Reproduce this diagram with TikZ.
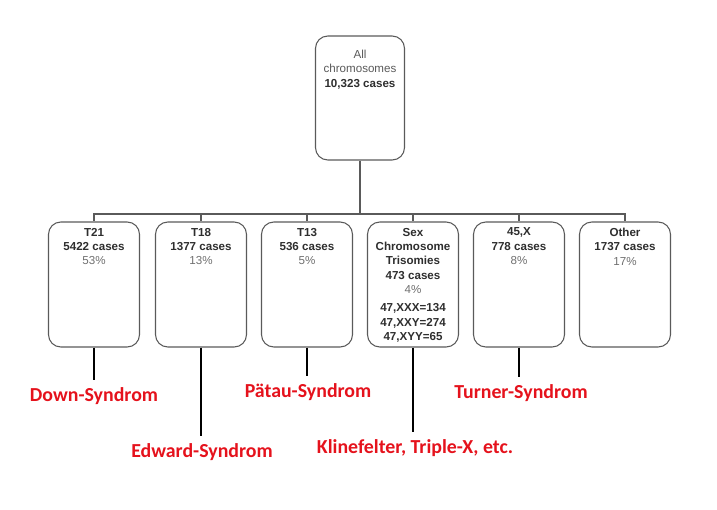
\documentclass[tikz,border=0pt]{standalone}
\usepackage{fontspec}
\setmainfont{Liberation Sans}
\newfontfamily\notefont{Carlito}
\usetikzlibrary{positioning}
\definecolor{boxline}{HTML}{5A5A5A}
\definecolor{boxtext}{HTML}{2E2E2E}
\definecolor{pcttext}{HTML}{707070}
\definecolor{notered}{HTML}{E5121C}

\tikzset{
  case/.style={draw=boxline,line width=0.6pt,rounded corners=7pt,minimum width=1.82cm,minimum height=2.5cm,inner sep=0pt},
  casetxt/.style={anchor=north,align=center,font=\fontsize{6.6}{8.2}\selectfont,text=boxtext,inner sep=0pt},
  tree/.style={draw=boxline,line width=0.7pt},
  stub/.style={black,line width=1.7pt,shorten >=4pt},
  note/.style={anchor=base,text=notered,font=\notefont\bfseries\fontsize{11.3}{13}\selectfont,inner sep=0pt}
}

\begin{document}
\begin{tikzpicture}[x=0.02cm,y=-0.02cm]
\useasboundingbox (0,0) rectangle (717,510);

% Top box and its children.
\node[case,minimum width=1.78cm,minimum height=2.48cm] (all) at (360,98) {};
\node[casetxt] (allt) at ([yshift=-8pt]all.north) {\textcolor{pcttext!80!black}{All}\\\textcolor{pcttext!80!black}{chromosomes}\\\textbf{10,323 cases}};

\node[case] (t21) at (94,284.5) {};
\node[case] (t18) at (201,284.5) {};
\node[case] (t13) at (307,284.5) {};
\node[case] (sex) at (413,284.5) {};
\node[case] (mono) at (519,284.5) {};
\node[case] (other) at (625,284.5) {};

\node[casetxt] (t21t) at ([yshift=-3.5pt]t21.north) {\textbf{T21}\\\textbf{5422 cases}\\\textcolor{pcttext}{53\%}};
\node[casetxt] (t18t) at ([yshift=-3.5pt]t18.north) {\textbf{T18}\\\textbf{1377 cases}\\\textcolor{pcttext}{13\%}};
\node[casetxt] (t13t) at ([yshift=-3.5pt]t13.north) {\textbf{T13}\\\textbf{536 cases}\\\textcolor{pcttext}{5\%}};
\node[casetxt] (sext) at ([yshift=-3.5pt]sex.north) {\textbf{Sex}\\\textbf{Chromosome}\\\textbf{Trisomies}\\\textbf{473 cases}\\\textcolor{pcttext}{4\%}\\[2pt]\textbf{47,XXX=134}\\\textbf{47,XXY=274}\\\textbf{47,XYY=65}};
\node[casetxt] (monot) at ([yshift=-3.5pt]mono.north) {\textbf{45,X}\\\textbf{778 cases}\\\textcolor{pcttext}{8\%}};
\node[casetxt] (othert) at ([yshift=-3.5pt]other.north) {\textbf{Other}\\\textbf{1737 cases}\\\textcolor{pcttext}{17\%}};

% Tree lines.
\coordinate (split) at (all.south |- 0,214);
\draw[tree] (all.south) -- (split);
\foreach \n in {t21,t18,t13,sex,mono,other}
  \draw[tree] (split) -| (\n.north);

% Syndrome names.
\node[note] (down) at (94,401) {Down-Syndrom};
\node[note] (edward) at (202,457) {Edward-Syndrom};
\node[note] (patau) at (308,397) {Pätau-Syndrom};
\node[note] (kline) at (415,453) {Klinefelter, Triple-X, etc.};
\node[note] (turner) at (521,398) {Turner-Syndrom};

\draw[stub] (t21.south) -- (t21.south |- down.north);
\draw[stub] (t18.south) -- (t18.south |- edward.north);
\draw[stub] (t13.south) -- (t13.south |- patau.north);
\draw[stub] (sex.south) -- (sex.south |- kline.north);
\draw[stub] (mono.south) -- (mono.south |- turner.north);
\end{tikzpicture}
\end{document}
